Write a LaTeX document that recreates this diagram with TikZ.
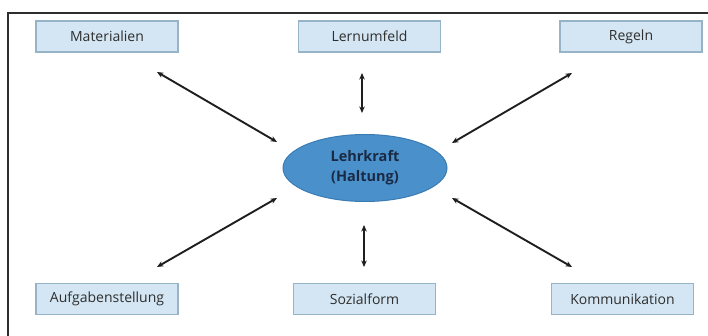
\documentclass[tikz,border=0pt]{standalone}
\usepackage{fontspec}
\setmainfont{Open Sans}
\usetikzlibrary{arrows.meta,shapes.geometric}
\definecolor{boxfill}{HTML}{D4E6F3}
\definecolor{boxline}{HTML}{97B3C8}
\definecolor{ellfill}{HTML}{4A90CB}
\definecolor{ellline}{HTML}{3A7BB2}
\definecolor{txt}{HTML}{2E2E2E}
\definecolor{ctxt}{HTML}{1B2A44}
\definecolor{arr}{HTML}{1E1E1E}
\begin{document}
\begin{tikzpicture}[x=1pt,y=-1pt,
  topic/.style={draw=boxline, fill=boxfill, line width=1.2pt, minimum width=142pt, minimum height=31pt, inner sep=0pt, text=txt, font=\fontsize{14}{16}\selectfont},
  hub/.style={ellipse, draw=ellline, fill=ellfill, line width=1pt, minimum width=164pt, minimum height=67pt, inner sep=0pt, text=ctxt, align=center, font=\bfseries\fontsize{14.5}{20}\selectfont},
  link/.style={{Stealth[length=6.5pt,width=5.5pt]}-{Stealth[length=6.5pt,width=5.5pt]}, line width=1.9pt, draw=arr}]
\useasboundingbox (0,0) rectangle (708,336);
\draw[line width=1.4pt, draw=txt] (8,336) -- (8,13) -- (708,13);
\node[topic] (mat) at (107,36.5) {Materialien};
\node[topic] (lern) at (369.5,36.5) {Lernumfeld};
\node[topic] (reg) at (631,36.5) {Regeln};
\node[topic] (auf) at (107,299) {Aufgabenstellung};
\node[topic] (soz) at (364.5,299) {Sozialform};
\node[topic] (kom) at (622.5,299) {Kommunikation};
\node[hub] (lk) at (365,168) {Lehrkraft\\(Haltung)};
\coordinate (m1) at (157,72); \coordinate (m2) at (277,142);
\coordinate (l1) at (362,73); \coordinate (l2) at (362,113);
\coordinate (r1) at (572,73); \coordinate (r2) at (452,143);
\coordinate (a1) at (157,267); \coordinate (a2) at (277,198);
\coordinate (s1) at (364,267); \coordinate (s2) at (364,225);
\coordinate (k1) at (572,267); \coordinate (k2) at (452,198);
\draw[link] (m1) -- (m2);
\draw[link] (l1) -- (l2);
\draw[link] (r1) -- (r2);
\draw[link] (a1) -- (a2);
\draw[link] (s1) -- (s2);
\draw[link] (k1) -- (k2);
\end{tikzpicture}
\end{document}
